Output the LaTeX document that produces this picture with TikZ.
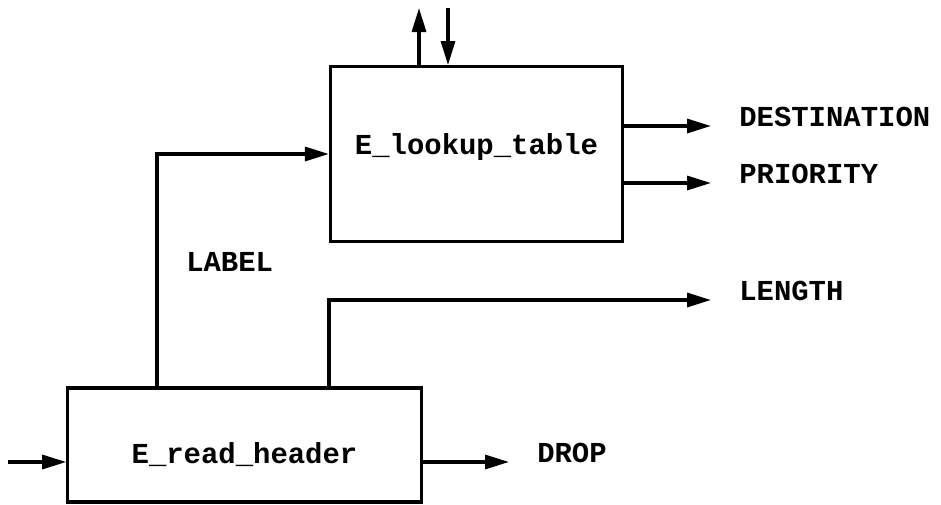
\documentclass[tikz,border=0pt]{standalone}
\usepackage{fontspec}
\setmonofont{Liberation Mono}
\usepackage{tikz}
\usetikzlibrary{arrows.meta}
\tikzstyle{block} = [draw, rectangle, line width=2.4pt, font=\ttfamily\bfseries\fontsize{21.7}{26}\selectfont]
\tikzstyle{sig} = [inner sep=0pt, font=\ttfamily\bfseries\fontsize{21.7}{26}\selectfont]
\tikzstyle{arrow} = [line width=2.4pt, -{Triangle[length=18pt,width=10.5pt]}]

\begin{document}
\begin{tikzpicture}[x=0.75pt, y=-0.75pt]
	\useasboundingbox (0,0) rectangle (941,504);
	% the two blocks
	\node[block, minimum width=219pt, minimum height=131pt, text height=0pt, text depth=0pt] (lookup) at (476.5,154) {E\_lookup\_table};
	\node[block, minimum width=265pt, minimum height=85.5pt, text height=27pt, text depth=0pt] (read) at (244.5,445) {E\_read\_header};
	% signal names
	\node[sig, anchor=base west] (dest) at (739,126) {DESTINATION};
	\node[sig, anchor=base west] (prio) at (739,183) {PRIORITY};
	\node[sig, anchor=base west] (len) at (739,300) {LENGTH};
	\node[sig, anchor=base west] (drop) at (537,462) {DROP};
	\node[sig, anchor=base west] (label) at (186,271) {LABEL};
	\coordinate (in) at (8,462);
	\coordinate (bus) at (157,154);
	\coordinate (upout) at (419,8);
	\coordinate (downin) at (448,8);
	% connections
	\draw[arrow] (in) -- (in -| read.west);
	\draw[arrow] (read.east |- drop.base) -- ([xshift=-21pt]drop.base west);
	\draw[arrow] (read.north -| bus) |- (lookup.west);
	\draw[arrow] (read.north -| lookup.west) |- ([xshift=-21pt]len.base west);
	\draw[arrow] (lookup.east |- dest.base) -- ([xshift=-21pt]dest.base west);
	\draw[arrow] (lookup.east |- prio.base) -- ([xshift=-21pt]prio.base west);
	\draw[arrow] (lookup.north -| upout) -- (upout);
	\draw[arrow] (downin) -- (lookup.north -| downin);
\end{tikzpicture}
\end{document}
